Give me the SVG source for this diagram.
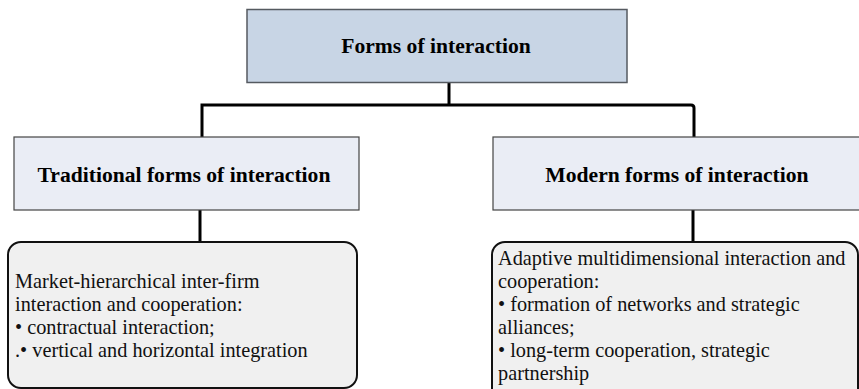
<svg xmlns="http://www.w3.org/2000/svg" width="859" height="389" viewBox="0 0 859 389">
<style>
.title{font-family:"Liberation Serif","Times New Roman",serif;font-weight:bold;font-size:21.6px;fill:#000;text-anchor:middle}
.body{font-family:"Liberation Serif","Times New Roman",serif;font-size:20.3px;fill:#111}
.top{fill:#c8d5e5;stroke:#555a60;stroke-width:1.5}
.mid{fill:#eaedf5;stroke:#444;stroke-width:1.2}
.leaf{fill:#f0f0f0;stroke:#111;stroke-width:2}
.conn{fill:none;stroke:#000;stroke-width:3}
</style>
<rect width="859" height="389" fill="#fff"/>
<g id="connectors">
<path class="conn" d="M449 82 V105"/>
<path class="conn" d="M202 137 V105 H691 Q694 105 694 108 V137"/>
<path class="conn" d="M200 210 V242"/>
<path class="conn" d="M693 210 V242"/>
</g>
<g id="root">
<rect class="top" x="247" y="9.5" width="380" height="73"/>
<text class="title" x="436" y="53">Forms of interaction</text>
</g>
<g id="traditional">
<rect class="mid" x="14" y="137" width="345" height="73"/>
<text class="title" x="184" y="182">Traditional forms of interaction</text>
</g>
<g id="modern">
<rect class="mid" x="493" y="137" width="370" height="73"/>
<text class="title" x="677" y="182">Modern forms of interaction</text>
</g>
<g id="traditional-detail">
<rect class="leaf" x="8" y="242" width="349" height="146" rx="13"/>
<text class="body" x="15" y="288">Market-hierarchical inter-firm</text>
<text class="body" x="15" y="311">interaction and cooperation:</text>
<text class="body" x="15" y="334">• contractual interaction;</text>
<text class="body" x="15" y="357">.• vertical and horizontal integration</text>
</g>
<g id="modern-detail">
<rect class="leaf" x="492" y="242" width="366" height="160" rx="13"/>
<text class="body" x="498" y="265">Adaptive multidimensional interaction and</text>
<text class="body" x="498" y="288">cooperation:</text>
<text class="body" x="498" y="311">• formation of networks and strategic</text>
<text class="body" x="498" y="334">alliances;</text>
<text class="body" x="498" y="357">• long-term cooperation, strategic</text>
<text class="body" x="498" y="380">partnership</text>
</g>
</svg>
